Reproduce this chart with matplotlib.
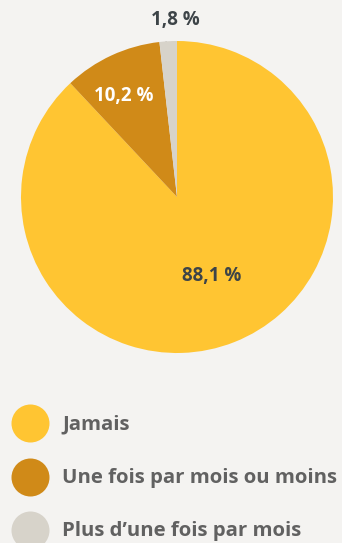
import matplotlib.pyplot as plt

labels = ["Jamais", "Une fois par mois ou moins", "Plus d\u2019une fois par mois"]
values = [88.1, 10.2, 1.8]
value_texts = ["88,1 %", "10,2 %", "1,8 %"]
colors = ["#FFC532", "#D08A18", "#D7D3CA"]
bg = "#F4F3F1"

W, H = 342, 543
fig = plt.figure(figsize=(W / 100, H / 100), dpi=100, facecolor=bg)

# pie, centre (177,197) px, radius 156 px
cx, cy, r = 177, 197, 156
ax = fig.add_axes([(cx - r) / W, (H - cy - r) / H, 2 * r / W, 2 * r / H])
ax.set_facecolor(bg)
wedges, _ = ax.pie(values, colors=colors, startangle=90, counterclock=False,
                   radius=1, wedgeprops=dict(linewidth=0))
ax.set_xlim(-1, 1)
ax.set_ylim(-1, 1)
ax.axis("off")

font = dict(family="Open Sans", fontweight="bold", fontsize=13.5)
ax.text(0.22, -0.505, value_texts[0], color="#3D4448", ha="center", va="center", **font)
ax.text(-0.34, 0.65, value_texts[1], color="white", ha="center", va="center", **font)
ax.plot([-0.07, -0.075], [1.0, 1.07], color="#C8C5BE", lw=1)
ax.text(-0.01, 1.135, value_texts[2], color="#3D4448", ha="center", va="center", **font)

# legend in pixel coordinates
lax = fig.add_axes([0, 0, 1, 1], facecolor="none")
lax.set_xlim(0, W)
lax.set_ylim(H, 0)
lax.axis("off")
ys = [423, 477, 530]
lfont = dict(font, fontsize=14.7)
for lab, col, y in zip(labels, colors, ys):
    lax.scatter([30], [y], s=(38 * 0.72) ** 2, color=col, linewidths=0)
    lax.text(62, y + 1, lab, color="#616161", ha="left", va="center", **lfont)

fig.savefig("out.png", dpi=100, facecolor=bg)
